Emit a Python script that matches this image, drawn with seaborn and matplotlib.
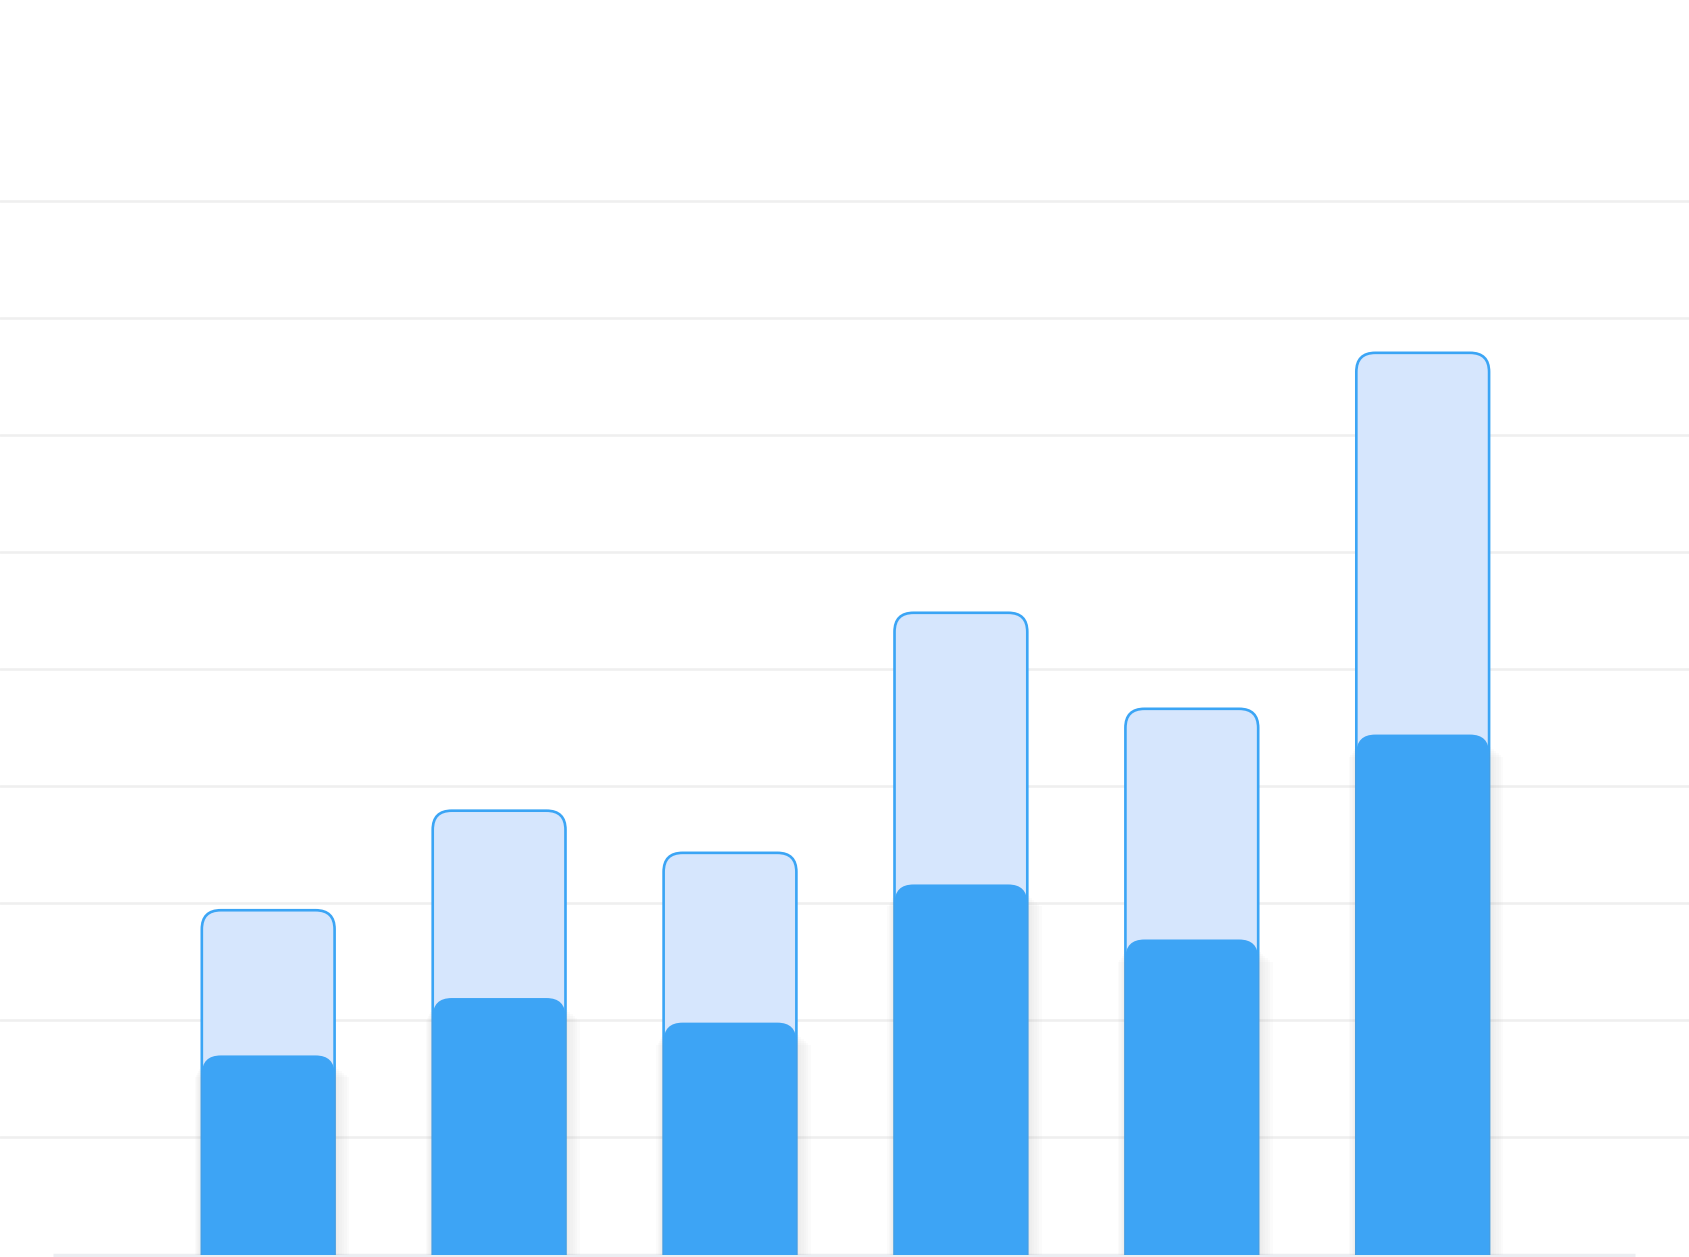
import numpy as np
import pandas as pd
import seaborn as sns
import matplotlib
matplotlib.use("Agg")
import matplotlib.pyplot as plt
from matplotlib.patches import FancyBboxPatch, Rectangle

# values (one gridline = 10)
categories = ["Jan", "Feb", "Mar", "Apr", "May", "Jun"]
totals = [29.4, 37.9, 34.3, 54.8, 46.6, 77.0]
parts = [17.0, 21.9, 19.8, 31.6, 26.9, 44.4]

light = "#D6E6FD"
edge = "#3BA5F5"
blue = "#3DA4F5"

df = pd.DataFrame({"cat": categories, "total": totals, "part": parts})

sns.set_style("white")
fig = plt.figure(figsize=(16.89, 12.57), dpi=100)
ax = fig.add_axes([0, 2.5 / 1257, 1, 1254.5 / 1257])

sns.barplot(data=df, x="cat", y="total", color=light, width=0.575, ax=ax, saturation=1)
sns.barplot(data=df, x="cat", y="part", color=blue, width=0.575, ax=ax, saturation=1)

# px per unit -> used to keep corners round
x_px = 230.9
y_px = 11.71
r_px = 19
aspect = (r_px / y_px) / (r_px / x_px)
r = r_px / x_px

bars = list(ax.patches)
n = len(categories)
outline_bars = bars[:n]
fill_bars = bars[n:]
for p in bars:
    p.remove()

for p in outline_bars:
    x, w, h = p.get_x(), p.get_width(), p.get_height()
    ax.add_patch(FancyBboxPatch((x, -3), w, h + 3,
                                boxstyle=f"round,pad=0,rounding_size={r}",
                                mutation_aspect=aspect, fc=light, ec=edge,
                                lw=1.9, zorder=2))

for p in fill_bars:
    x, w, h = p.get_x(), p.get_width(), p.get_height()
    # soft shadow
    for k in range(1, 7):
        ax.add_patch(Rectangle((x - 1.2 * k / x_px, 0), w + 3.6 * k / x_px,
                               h - (10 + 2 * k) / y_px, fc="#9A9A9A", ec="none",
                               alpha=0.03, zorder=2.5))
    ax.add_patch(FancyBboxPatch((x, -3), w, h + 3,
                                boxstyle=f"round,pad=0,rounding_size={r}",
                                mutation_aspect=aspect, fc=blue, ec="none",
                                zorder=3))

ax.set_xlim(-268.2 / x_px, (1689 - 268.2) / x_px)
ax.set_ylim(0, 1254.5 / y_px)
ax.set_yticks(np.arange(10, 100, 10))
ax.yaxis.grid(True, color="#EFEFEF", lw=1.8)
ax.set_axisbelow(True)
ax.hlines(0, -0.93, 5.92, color="#ECEEF2", lw=2.5, clip_on=False, zorder=1)
ax.tick_params(left=False, bottom=False, labelleft=False, labelbottom=False)
ax.set_xlabel("")
ax.set_ylabel("")
sns.despine(ax=ax, left=True, bottom=True)

fig.savefig("out.png", dpi=100)
